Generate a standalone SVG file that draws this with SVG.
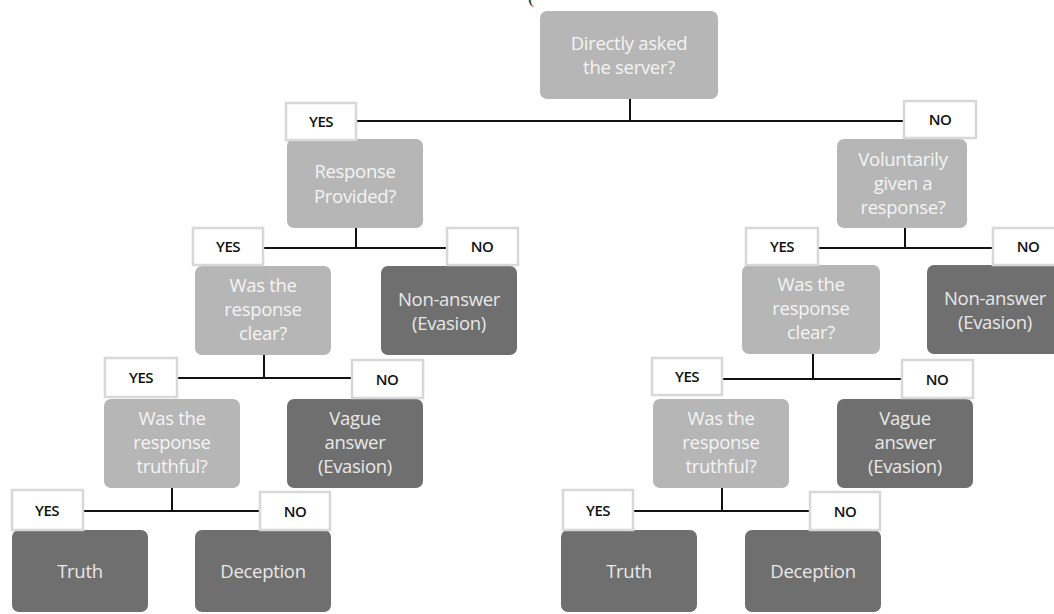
<svg xmlns="http://www.w3.org/2000/svg" width="1054" height="614" viewBox="0 0 1054 614">
<style>
.q{fill:#b6b6b6}
.r{fill:#6f6f6f}
.t{font-family:"Open Sans","Noto Sans",sans-serif;font-size:18.5px;fill:#f4f4f4;text-anchor:middle;letter-spacing:-0.3px}
.d{fill:#e8e8e8}
.lb rect{fill:#fff;stroke:#d8d8d8;stroke-width:2.5}
.lb text{font-family:"Open Sans","Noto Sans",sans-serif;font-size:15px;font-weight:600;fill:#111;text-anchor:middle;letter-spacing:-0.5px}
.c{stroke:#111;stroke-width:2;fill:none}
</style>
<rect width="1054" height="614" fill="#fff"/>
<text x="528" y="3" font-family="Liberation Serif, serif" font-size="18" fill="#222">(</text>

<g id="connectors" class="c">
<path d="M630 99V121M355 121H904"/>
<path d="M356 228V248M263 248H447"/>
<path d="M905 228V248M818 248H993"/>
<path d="M264 355V378M177 378H352"/>
<path d="M813 354V379M722 379H902"/>
<path d="M172 488V511M83 511H260"/>
<path d="M722 488V511M633 511H810"/>
</g>

<g id="n-direct"><rect class="q" x="540" y="11" width="178" height="88" rx="7"/>
<text class="t" x="629" y="50">Directly asked</text><text class="t" x="629" y="74">the server?</text></g>

<g id="n-provided"><rect class="q" x="287" y="139" width="136" height="89" rx="7"/>
<text class="t" x="355" y="178">Response</text><text class="t" x="355" y="203">Provided?</text></g>

<g id="n-voluntary"><rect class="q" x="837" y="139" width="130" height="89" rx="7"/>
<text class="t" x="903" y="166">Voluntarily</text><text class="t" x="903" y="190">given a</text><text class="t" x="903" y="214">response?</text></g>

<g id="n-clear-l"><rect class="q" x="195" y="266" width="136" height="89" rx="7"/>
<text class="t" x="263" y="292">Was the</text><text class="t" x="263" y="316">response</text><text class="t" x="263" y="340">clear?</text></g>

<g id="n-nonanswer-l"><rect class="r" x="381" y="266" width="136" height="89" rx="7"/>
<text class="t d" x="449" y="306">Non-answer</text><text class="t d" x="449" y="330">(Evasion)</text></g>

<g id="n-clear-r"><rect class="q" x="742" y="265" width="138" height="89" rx="7"/>
<text class="t" x="811" y="291">Was the</text><text class="t" x="811" y="315">response</text><text class="t" x="811" y="339">clear?</text></g>

<g id="n-nonanswer-r"><rect class="r" x="927" y="265" width="136" height="89" rx="7"/>
<text class="t d" x="995" y="305">Non-answer</text><text class="t d" x="995" y="329">(Evasion)</text></g>

<g id="n-truthful-l"><rect class="q" x="104" y="399" width="136" height="89" rx="7"/>
<text class="t" x="172" y="425">Was the</text><text class="t" x="172" y="449">response</text><text class="t" x="172" y="473">truthful?</text></g>

<g id="n-vague-l"><rect class="r" x="287" y="399" width="136" height="89" rx="7"/>
<text class="t d" x="355" y="425">Vague</text><text class="t d" x="355" y="449">answer</text><text class="t d" x="355" y="473">(Evasion)</text></g>

<g id="n-truthful-r"><rect class="q" x="653" y="399" width="136" height="89" rx="7"/>
<text class="t" x="721" y="425">Was the</text><text class="t" x="721" y="449">response</text><text class="t" x="721" y="473">truthful?</text></g>

<g id="n-vague-r"><rect class="r" x="837" y="399" width="136" height="89" rx="7"/>
<text class="t d" x="905" y="425">Vague</text><text class="t d" x="905" y="449">answer</text><text class="t d" x="905" y="473">(Evasion)</text></g>

<g id="n-truth-l"><rect class="r" x="12" y="530" width="136" height="82" rx="7"/>
<text class="t d" x="80" y="578">Truth</text></g>
<g id="n-deception-l"><rect class="r" x="195" y="530" width="136" height="82" rx="7"/>
<text class="t d" x="263" y="578">Deception</text></g>
<g id="n-truth-r"><rect class="r" x="561" y="530" width="136" height="82" rx="7"/>
<text class="t d" x="629" y="578">Truth</text></g>
<g id="n-deception-r"><rect class="r" x="745" y="530" width="136" height="82" rx="7"/>
<text class="t d" x="813" y="578">Deception</text></g>

<g id="labels" class="lb">
<g id="l1y"><rect x="286" y="103" width="70" height="37"/><text x="321" y="127">YES</text></g>
<g id="l1n"><rect x="904" y="101" width="72" height="37"/><text x="940" y="125">NO</text></g>
<g id="l2ly"><rect x="193" y="228" width="70" height="37"/><text x="228" y="252">YES</text></g>
<g id="l2ln"><rect x="447" y="228" width="71" height="37"/><text x="482" y="252">NO</text></g>
<g id="l2ry"><rect x="746" y="228" width="72" height="37"/><text x="782" y="252">YES</text></g>
<g id="l2rn"><rect x="993" y="228" width="71" height="37"/><text x="1028" y="252">NO</text></g>
<g id="l3ly"><rect x="105" y="358" width="72" height="39"/><text x="141" y="383">YES</text></g>
<g id="l3ln"><rect x="352" y="360" width="71" height="38"/><text x="387" y="385">NO</text></g>
<g id="l3ry"><rect x="652" y="358" width="70" height="37"/><text x="687" y="382">YES</text></g>
<g id="l3rn"><rect x="902" y="360" width="71" height="38"/><text x="937" y="385">NO</text></g>
<g id="l4ly"><rect x="12" y="490" width="71" height="40"/><text x="47" y="516">YES</text></g>
<g id="l4ln"><rect x="260" y="492" width="70" height="38"/><text x="295" y="517">NO</text></g>
<g id="l4ry"><rect x="563" y="490" width="70" height="40"/><text x="598" y="516">YES</text></g>
<g id="l4rn"><rect x="810" y="492" width="70" height="38"/><text x="845" y="517">NO</text></g>
</g>
</svg>
